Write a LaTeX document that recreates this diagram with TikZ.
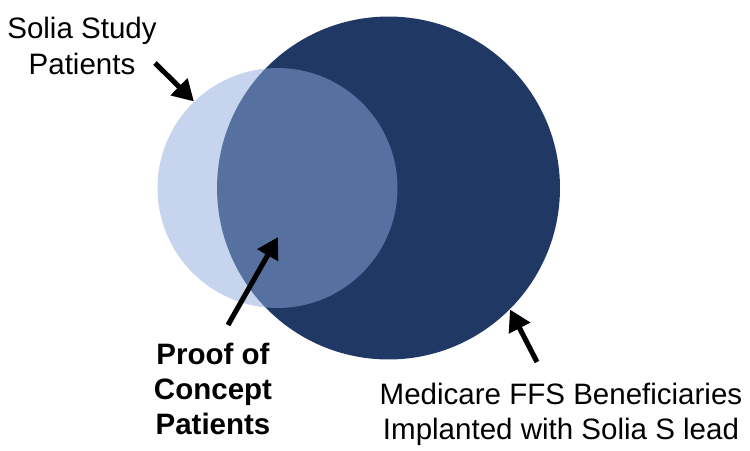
\documentclass[tikz,border=0pt]{standalone}
\usepackage{fontspec}
\setmainfont{Liberation Sans}
\usepackage{xcolor}
\usetikzlibrary{arrows.meta,positioning,calc}
\definecolor{navy}{HTML}{1F3864}
\definecolor{skyblue}{HTML}{8EA9DB}
\begin{document}
\begin{tikzpicture}[x=0.02cm, y=-0.02cm, >={Triangle[length=4.2mm,width=4.6mm]},
  set/.style={circle, inner sep=0pt, draw=none},
  lbl/.style={align=center, font=\fontsize{16.8}{20}\selectfont},
  pointer/.style={->, line width=2.9pt, black}]
  \useasboundingbox (0,0) rectangle (750,450);
  \node[set, fill=navy, minimum size=6.86cm] (bene) at (388.5,188) {};
  \node[set, fill=skyblue, fill opacity=0.5, minimum size=4.8cm] (solia) at (277.5,188) {};
  \node[lbl] (soliatxt) at (82,46) {Solia Study\\Patients};
  \node[lbl, font=\fontsize{16.8}{20}\selectfont\bfseries] (poctxt) at (213,389) {Proof of\\Concept\\Patients};
  \node[lbl] (benetxt) at (561,414) {Medicare FFS Beneficiaries\\Implanted with Solia S lead};
  \coordinate (t1) at (155,63);
  \coordinate (t2) at (228,325);
  \coordinate (h2) at (278,237);
  \coordinate (t3) at (537,362);
  \draw[pointer] (t1) -- (solia.134);
  \draw[pointer] (t2) -- (h2);
  \draw[pointer] (t3) -- (bene.-45);
\end{tikzpicture}
\end{document}
